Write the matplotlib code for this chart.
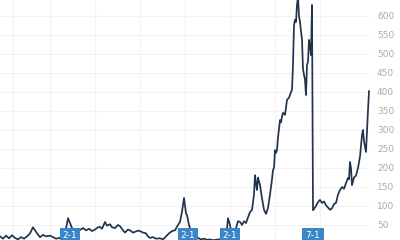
import numpy as np
import matplotlib
matplotlib.use("Agg")
import matplotlib.pyplot as plt
import matplotlib.transforms as mtransforms

# time axis (arbitrary units along the chart) and price values
t = [0, 3, 6, 9, 12, 15, 18, 21, 24, 27, 30, 33, 35, 37, 40, 43, 46, 50, 53, 56,
     60, 63, 66, 68, 70, 72, 74, 77, 80, 83, 86, 89, 92, 95, 98, 100, 102, 105, 107, 110,
     112, 115, 118, 120, 123, 125, 128, 130, 133, 135, 138, 140, 143, 146, 148, 150, 153, 156, 160, 163,
     166, 169, 172, 175, 178, 180, 182, 184, 185, 186, 187, 189, 191, 193, 195, 198, 201, 204, 207, 210,
     213, 216, 219, 222, 225, 227, 228, 230, 232, 234, 236, 238, 240, 242, 244, 246, 248, 250, 252, 254,
     255, 256, 257, 258, 259, 260, 262, 264, 266, 268, 270, 272, 273, 274, 275, 276, 277, 278, 280, 281,
     282, 283, 285, 287, 289, 290, 291, 292, 293, 294, 295, 296, 297, 298, 299, 300, 301, 302, 303, 304,
     305, 306, 307, 308, 309, 310, 311, 312, 313, 314, 316, 318, 320, 322, 324, 326, 328, 330, 332, 334,
     336, 338, 340, 342, 344, 346, 348, 349, 350, 351, 352, 354, 356, 358, 360, 362, 363, 364, 366, 367,
     368, 369]
price = [20, 14, 22, 15, 23, 16, 12, 18, 14, 20, 28, 44, 36, 28, 18, 24, 20, 22, 18, 14,
         16, 26, 40, 68, 55, 42, 38, 36, 37, 42, 36, 40, 34, 38, 44, 45, 40, 58, 48, 52,
         44, 42, 50, 47, 36, 30, 38, 36, 30, 32, 35, 34, 30, 28, 20, 16, 18, 14, 15, 12,
         20, 28, 34, 36, 50, 58, 85, 121, 100, 80, 76, 50, 34, 26, 21, 16, 12, 14, 11, 12,
         10, 11, 12, 14, 15, 40, 68, 50, 18, 30, 42, 60, 58, 50, 60, 55, 70, 84, 90, 130,
         181, 160, 142, 175, 165, 155, 120, 90, 79, 95, 130, 170, 195, 200, 247, 240, 247, 280, 326, 320,
         335, 345, 340, 379, 385, 392, 400, 405, 471, 576, 590, 584, 629, 650, 600, 584, 560, 537, 460, 445,
         432, 392, 471, 480, 537, 520, 497, 629, 89, 92, 100, 110, 116, 108, 112, 102, 96, 90, 94, 105,
         108, 130, 142, 150, 145, 160, 174, 170, 216, 200, 155, 175, 180, 200, 230, 287, 300, 270, 242, 300,
         352, 402]

y_ticks = [50, 100, 150, 200, 250, 300, 350, 400, 450, 500, 550, 600]
x_grid = [13, 50, 95, 140, 185, 230, 275, 320, 370]

badge_t = [70, 188, 230, 313]
badge_text = ["2-1", "2-1", "2-1", "7-1"]

fig = plt.figure(figsize=(4, 2.4), dpi=100)
ax = fig.add_axes([0, 0, 0.925, 1])

ax.plot(t, price, color="#22344c", lw=1.25, solid_joinstyle="round")

ax.set_xlim(0, 370)
ax.set_ylim(10.5, 642)
ax.set_yticks(y_ticks)
ax.set_xticks(x_grid)
ax.yaxis.tick_right()
ax.tick_params(axis="y", length=0, pad=5, labelsize=6.5, labelcolor="#ababab")
ax.tick_params(axis="x", length=0, labelbottom=False)
ax.grid(True, color="#f2f2f2", lw=0.8)
ax.set_axisbelow(True)
for s in ax.spines.values():
    s.set_visible(False)

trans = mtransforms.blended_transform_factory(ax.transData, ax.transAxes)
for bx, bt in zip(badge_t, badge_text):
    ax.text(bx, 0.018, bt, transform=trans, ha="center", va="center",
            fontsize=6.5, color="white",
            bbox=dict(boxstyle="square,pad=0.35", fc="#3a86c9", ec="none"))

fig.savefig("out.png", dpi=100)
